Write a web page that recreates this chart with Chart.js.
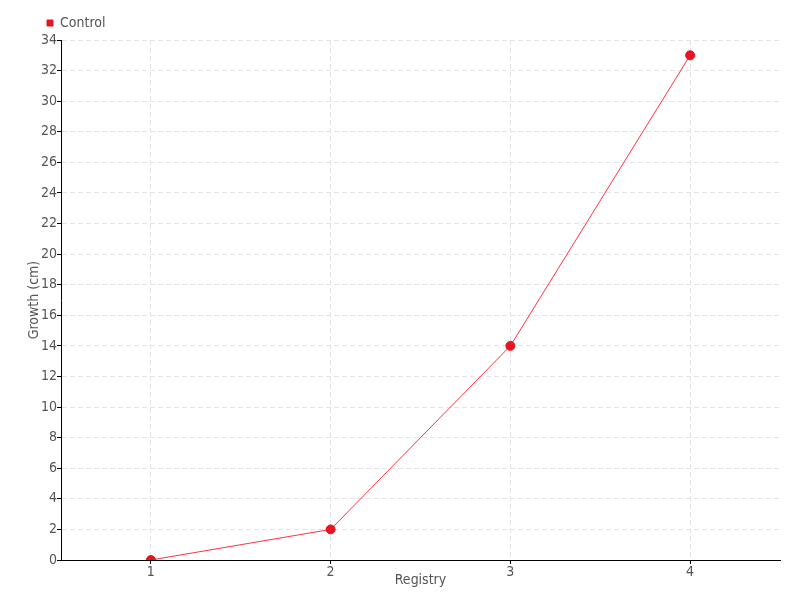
<!DOCTYPE html>
<html>
<head>
<meta charset="utf-8">
<script src="https://cdn.jsdelivr.net/npm/chart.js@4"></script>
<style>
html,body{margin:0;padding:0;background:#fff;}
#wrap{width:800px;height:600px;position:relative;}
</style>
</head>
<body>
<div id="wrap"><canvas id="c" width="800" height="600"></canvas></div>
<script>
const categories = ["1", "2", "3", "4"];
const seriesName = "Control";
const controlValues = [0, 2, 14, 33];
const yMin = 0, yMax = 34, yStep = 2;
const xTitle = "Registry";
const yTitle = "Growth (cm)";

const FONT = "'DejaVu Sans Condensed', 'Liberation Sans Narrow', sans-serif";
Chart.defaults.font.family = FONT;
Chart.defaults.color = '#555';

const legendShift = {
  id: 'legendShift',
  afterLayout(chart) {
    if (chart.legend) { chart.legend.left += 21; chart.legend.right += 21; }
  }
};

new Chart(document.getElementById('c'), {
  type: 'line',
  data: {
    labels: categories,
    datasets: [{
      label: seriesName,
      data: controlValues,
      borderColor: '#ff3344',
      backgroundColor: '#e8141f',
      borderWidth: 1,
      pointRadius: 4.5,
      pointHoverRadius: 4.5,
      pointBackgroundColor: '#e8141f',
      pointBorderColor: '#e8141f',
      tension: 0,
      fill: false
    }]
  },
  plugins: [legendShift],
  options: {
    responsive: false,
    animation: false,
    layout: { padding: { left: 20, right: 20, top: 10, bottom: 11 } },
    plugins: {
      legend: {
        align: 'start',
        labels: {
          usePointStyle: true,
          pointStyle: 'rect',
          boxWidth: 6,
          boxHeight: 6,
          padding: 6,
          font: { size: 14 },
          color: '#555'
        }
      },
      tooltip: { enabled: false }
    },
    scales: {
      x: {
        offset: true,
        afterFit(scale) { scale.height = 29; },
        grid: { offset: false, color: '#e3e3e3', tickColor: '#000', tickLength: 4, lineWidth: 1 },
        border: { color: '#000', width: 1, dash: [5, 3] },
        ticks: { font: { size: 14 }, color: '#555', padding: 0 },
        title: { display: true, text: xTitle, font: { size: 14 }, color: '#555', padding: 0 }
      },
      y: {
        min: yMin, max: yMax,
        afterFit(scale) { scale.width = 41; },
        grid: { color: '#e3e3e3', tickColor: '#000', tickLength: 4, lineWidth: 1 },
        border: { color: '#000', width: 1, dash: [5, 3] },
        ticks: { stepSize: yStep, font: { size: 14 }, color: '#555', padding: 0 },
        title: { display: true, text: yTitle, font: { size: 14 }, color: '#555', padding: { top: 6, bottom: 0 } }
      }
    }
  }
});
</script>
</body>
</html>
